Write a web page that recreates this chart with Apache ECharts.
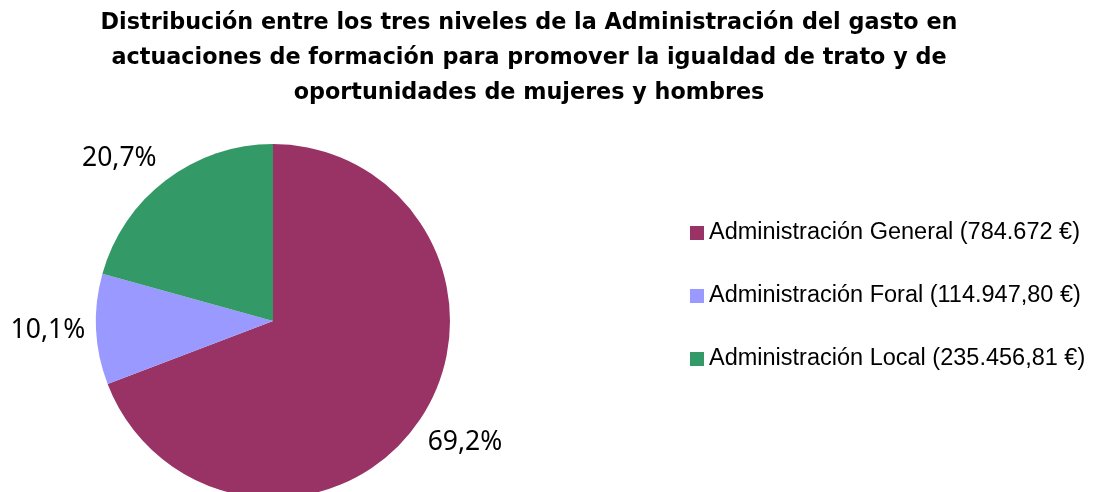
<!DOCTYPE html>
<html><head><meta charset="utf-8">
<script src="https://cdn.jsdelivr.net/npm/echarts@6/dist/echarts.min.js"></script>
<style>html,body{margin:0;padding:0;background:#fff}#c{width:1098px;height:492px}</style>
</head><body><div id="c"></div>
<script>
const titleText = 'Distribución entre los tres niveles de la Administración del gasto en\nactuaciones de formación para promover la igualdad de trato y de\noportunidades de mujeres y hombres';
const categories = ['Administración General (784.672 €)', 'Administración Foral (114.947,80 €)', 'Administración Local (235.456,81 €)'];
const percentages = [69.2, 10.1, 20.7];
const colors = ['#993366', '#9999FF', '#339966'];
const labelShift = [[-6, 14], [6, 1], [3, -12]];

const chart = echarts.init(document.getElementById('c'));
chart.setOption({
  animation: false,
  title: {
    text: titleText, left: 524, top: 1, textAlign: 'center',
    textStyle: { fontFamily: 'DejaVu Sans', fontWeight: 'bold', fontSize: 22.3, lineHeight: 35, color: '#000' }
  },
  legend: {
    orient: 'vertical', left: 690, top: 221, padding: 0, itemWidth: 14, itemHeight: 14, itemGap: 39,
    icon: 'rect',
    textStyle: { fontFamily: 'Liberation Sans', fontSize: 23.5, lineHeight: 20, color: '#000' },
    data: categories
  },
  series: [{
    type: 'pie', center: [273, 321], radius: 177, startAngle: 90, clockwise: true,
    avoidLabelOverlap: false,
    label: {
      show: true, position: 'outside', fontFamily: 'Noto Sans', fontSize: 26.5, color: '#000',
      formatter: p => p.value.toFixed(1).replace('.', ',') + '%'
    },
    labelLine: { show: false, length: 12, length2: 0 },
    labelLayout: p => ({ dx: labelShift[p.dataIndex][0], dy: labelShift[p.dataIndex][1] }),
    itemStyle: { borderWidth: 0 },
    emphasis: { disabled: true },
    data: categories.map((c, i) => ({ name: c, value: percentages[i], itemStyle: { color: colors[i] } }))
  }]
});
</script></body></html>
